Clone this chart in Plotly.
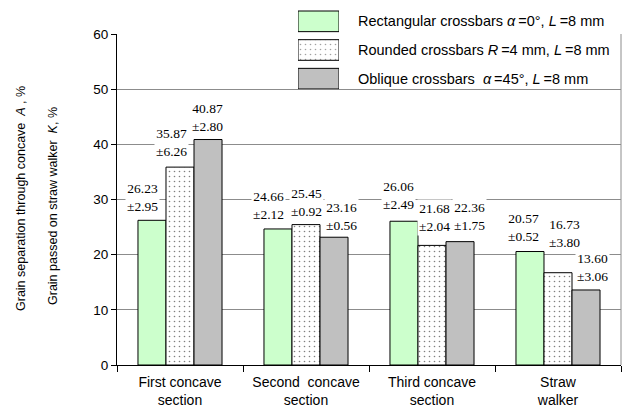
import plotly.graph_objects as go

# Category labels along the x axis
categories = [
    "First concave<br>section",
    "Second\u00a0 concave<br>section",
    "Third concave<br>section",
    "Straw<br>walker",
]

# Series names (legend text)
series_names = [
    "Rectangular crossbars <i>\u03b1</i>\u2009=0\u00b0, <i>L</i>\u2009=8 mm",
    "Rounded crossbars <i>R</i>\u2009=4 mm, <i>L</i>\u2009=8 mm",
    "Oblique crossbars\u00a0 <i>\u03b1</i>\u2009=45\u00b0, <i>L</i>\u2009=8 mm",
]

# Mean values, %
rectangular = [26.23, 24.66, 26.06, 20.57]
rounded = [35.87, 25.45, 21.68, 16.73]
oblique = [40.87, 23.16, 22.36, 13.60]

# Half-widths of the confidence intervals, %
rectangular_err = [2.95, 2.12, 2.49, 0.52]
rounded_err = [6.26, 0.92, 2.04, 3.80]
oblique_err = [2.80, 0.56, 1.75, 3.06]

y_ticks = [0, 10, 20, 30, 40, 50, 60]

values = [rectangular, rounded, oblique]
errors = [rectangular_err, rounded_err, oblique_err]

# Bar styling
fills = ["#ccffcc", "white", "#c0c0c0"]
patterns = ["", ".", ""]

SANS = "Liberation Sans, Arial, sans-serif"
SERIF = "Liberation Serif, Times New Roman, DejaVu Serif, serif"

# Small nudges (px) for the value labels so they sit clear of neighbours
LABEL_DX = [[-9, -9, -5, -6], [-9, 0, 2, 6], [-1, 7, 9, 6]]
LABEL_DY = [[4, 5, 7, 6], [6, 4, 9, 21], [4, 2, 7, 4]]

W, H = 622, 410
M_L, M_R, M_T, M_B = 117, 1, 4, 45
PLOT_W = W - M_L - M_R
PLOT_H = H - M_T - M_B
AXIS_TOP_PX = 34
BARGAP = 0.333

y_top = (H - M_B - AXIS_TOP_PX) / PLOT_H


def px_x(px):
    return (px - M_L) / PLOT_W


def px_y(px):
    return (H - M_B - px) / PLOT_H


fig = go.Figure()

for name, vals, fill, pat in zip(series_names, values, fills, patterns):
    fig.add_trace(go.Bar(
        x=categories, y=vals, name=name, showlegend=False,
        marker=dict(
            color=fill,
            line=dict(color="black", width=1),
            pattern=dict(shape=pat, fgcolor="black", bgcolor=fill,
                         size=5, solidity=0.08),
        ),
        xaxis="x", yaxis="y",
    ))

# Legend swatches drawn as bars on a small hidden subplot
fig.add_trace(go.Bar(
    x=[1, 1, 1], y=series_names, orientation="h", width=0.72,
    showlegend=False, hoverinfo="skip",
    marker=dict(
        color=fills,
        line=dict(color="black", width=1),
        pattern=dict(shape=patterns, fgcolor="black", bgcolor=fills,
                     size=5, solidity=0.08),
    ),
    xaxis="x2", yaxis="y2",
))

annotations = []
bar_px = PLOT_W / len(categories) * (1 - BARGAP) / len(values)
for i, (vals, errs) in enumerate(zip(values, errors)):
    for j, (v, e) in enumerate(zip(vals, errs)):
        annotations.append(dict(
            x=categories[j], y=v, xref="x", yref="y",
            text=f"{v:.2f}<br>\u00b1{e:.2f}",
            showarrow=False, xanchor="center", yanchor="bottom",
            xshift=(i - 1) * bar_px + LABEL_DX[i][j], yshift=LABEL_DY[i][j],
            bgcolor="white", borderpad=1,
            font=dict(family=SERIF, size=13.5, color="black"),
        ))

for name in series_names:
    annotations.append(dict(
        x=1, y=name, xref="x2 domain", yref="y2", xanchor="left",
        xshift=17, text=name, showarrow=False,
        font=dict(family=SANS, size=14.5, color="black"),
    ))

# Axis title, two lines
annotations.append(dict(
    x=px_x(21), y=px_y(199), xref="paper", yref="paper",
    text="Grain separation through concave\u00a0 <i>A</i> , %",
    textangle=-90, showarrow=False, xanchor="center", yanchor="middle",
    font=dict(family=SANS, size=12.5, color="black"),
))
annotations.append(dict(
    x=px_x(53), y=px_y(206), xref="paper", yref="paper",
    text="Grain passed on straw walker\u00a0 <i>K</i>, %",
    textangle=-90, showarrow=False, xanchor="center", yanchor="middle",
    font=dict(family=SANS, size=12.5, color="black"),
))

fig.update_layout(
    width=W, height=H,
    margin=dict(l=M_L, r=M_R, t=M_T, b=M_B, autoexpand=False),
    paper_bgcolor="white", plot_bgcolor="white",
    barmode="group", bargap=BARGAP, bargroupgap=0,
    font=dict(family=SANS, size=13, color="black"),
    xaxis=dict(
        type="category", domain=[0, 1], anchor="y",
        showgrid=False, showline=True, linecolor="black", linewidth=1,
        ticks="outside", tickson="boundaries", ticklen=6, tickcolor="black",
        ticklabelstandoff=4,
        tickfont=dict(family=SANS, size=14, color="black"),
        automargin=False, fixedrange=True,
    ),
    yaxis=dict(
        domain=[0, y_top], range=[0, 60], tickvals=y_ticks, anchor="x",
        showgrid=True, gridcolor="#8c8c8c", gridwidth=1, zeroline=False,
        showline=True, linecolor="black", linewidth=1,
        ticks="outside", ticklen=5, tickcolor="black",
        tickfont=dict(family=SANS, size=13.5, color="black"),
        automargin=False, fixedrange=True,
    ),
    xaxis2=dict(domain=[px_x(298), px_x(339)], range=[0, 1], anchor="y2",
                visible=False, fixedrange=True),
    yaxis2=dict(domain=[px_y(93), px_y(7)], anchor="x2", type="category",
                autorange="reversed", visible=False, fixedrange=True),
    shapes=[dict(type="line", xref="paper", yref="paper", x0=1, x1=1,
                 y0=0, y1=y_top, line=dict(color="#8c8c8c", width=1))],
    annotations=annotations,
)

fig.write_html("out.html")
